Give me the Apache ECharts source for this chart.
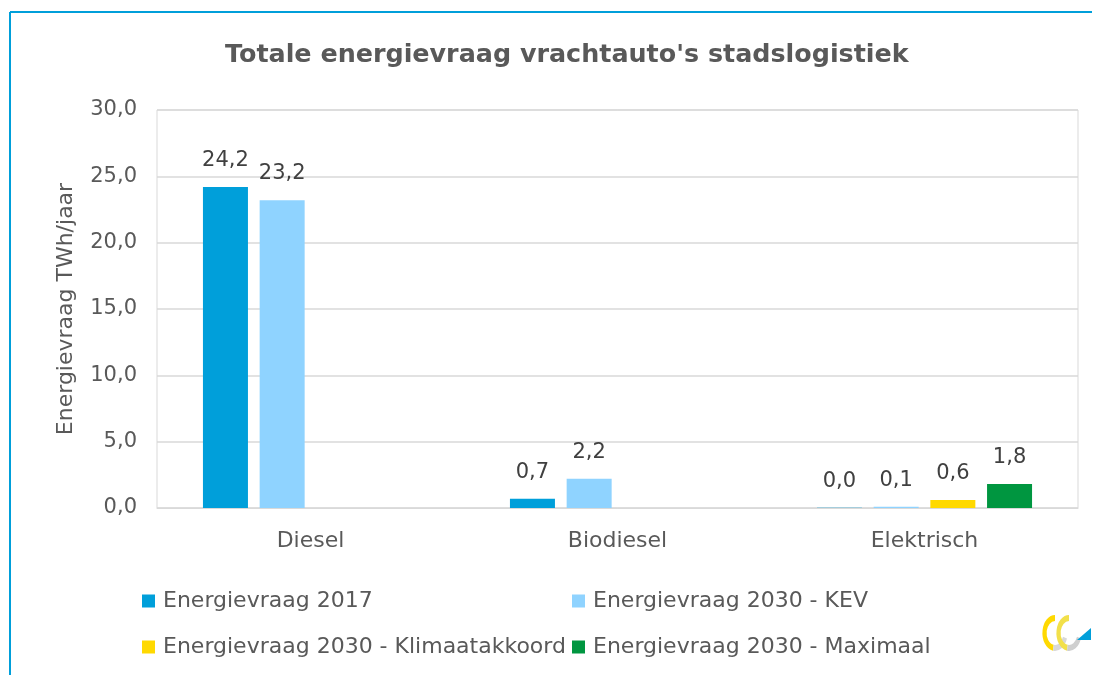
<!DOCTYPE html>
<html>
<head>
<meta charset="utf-8">
<script src="https://cdn.jsdelivr.net/npm/echarts@6/dist/echarts.min.js"></script>
<style>
  html, body { margin: 0; padding: 0; background: #fff; }
  #chart { width: 1102px; height: 675px; }
</style>
</head>
<body>
<div id="chart"></div>
<script>
var categories = ['Diesel', 'Biodiesel', 'Elektrisch'];
var seriesNames = ['Energievraag 2017', 'Energievraag 2030 - KEV', 'Energievraag 2030 - Klimaatakkoord', 'Energievraag 2030 - Maximaal'];
var vraag2017 = [24.2, 0.7, 0.02];
var vraagKEV = [23.2, 2.2, 0.1];
var vraagKlimaat = [null, null, 0.6];
var vraagMaximaal = [null, null, 1.8];
var yTicks = [0, 5, 10, 15, 20, 25, 30];

var colors = ['#009fda', '#8fd3ff', '#ffd900', '#009640'];
var font = 'DejaVu Sans';
var textColor = '#595959';

function komma(v) {
    return v.toFixed(1).replace('.', ',');
}

function makeSeries(name, data, i) {
    return {
        name: name,
        type: 'bar',
        data: data,
        barWidth: 45,
        barGap: '26%',
        itemStyle: { color: colors[i] },
        label: {
            show: true,
            position: 'top',
            distance: 16,
            fontFamily: font,
            fontSize: 21,
            color: '#404040',
            formatter: function (p) { return p.value == null ? '' : komma(p.value); }
        }
    };
}

function legendColumn(x, names) {
    return {
        orient: 'vertical',
        left: x, top: 585,
        itemGap: 24,
        itemWidth: 13, itemHeight: 13,
        icon: 'rect',
        data: names,
        textStyle: { fontFamily: font, fontSize: 22, color: textColor, padding: [0, 0, 0, 3] }
    };
}

// klein logo rechtsonder
function logoArc(x, start, end, color) {
    return {
        type: 'arc', x: x, y: 633, scaleX: 0.7,
        shape: { cx: 0, cy: 0, r: 15, startAngle: Math.PI * start, endAngle: Math.PI * end },
        style: { stroke: color, lineWidth: 6, fill: null }
    };
}

var chart = echarts.init(document.getElementById('chart'));
chart.setOption({
    animation: false,
    title: {
        text: "Totale energievraag vrachtauto's stadslogistiek",
        left: 220,
        top: 38,
        textStyle: { fontFamily: font, fontSize: 25.4, fontWeight: 'bold', color: textColor }
    },
    grid: {
        left: 157, right: 24, top: 110, bottom: 167,
        show: true, borderColor: '#d9d9d9', borderWidth: 1
    },
    legend: [
        legendColumn(137, [seriesNames[0], seriesNames[2]]),
        legendColumn(567, [seriesNames[1], seriesNames[3]])
    ],
    xAxis: {
        type: 'category',
        data: categories,
        axisLine: { lineStyle: { color: '#d9d9d9' } },
        axisTick: { show: false },
        axisLabel: { fontFamily: font, fontSize: 22, color: textColor, margin: 22 }
    },
    yAxis: {
        type: 'value',
        min: yTicks[0],
        max: yTicks[yTicks.length - 1],
        interval: 5,
        name: 'Energievraag TWh/jaar',
        nameLocation: 'middle',
        nameGap: 80,
        nameRotate: 90,
        nameTextStyle: { fontFamily: font, fontSize: 22, color: textColor },
        axisLine: { show: false },
        axisTick: { show: false },
        splitLine: { lineStyle: { color: '#d9d9d9', width: 1.5 } },
        axisLabel: { fontFamily: font, fontSize: 21, color: textColor, margin: 20, formatter: komma }
    },
    series: [
        makeSeries(seriesNames[0], vraag2017, 0),
        makeSeries(seriesNames[1], vraagKEV, 1),
        makeSeries(seriesNames[2], vraagKlimaat, 2),
        makeSeries(seriesNames[3], vraagMaximaal, 3)
    ],
    graphic: [
        { type: 'line', shape: { x1: 10, y1: 12, x2: 1092, y2: 12 }, style: { stroke: '#009fda', lineWidth: 2 } },
        { type: 'line', shape: { x1: 10, y1: 12, x2: 10, y2: 675 }, style: { stroke: '#009fda', lineWidth: 2 } },
        logoArc(1055, 0.55, 1.5, '#ffd900'),
        logoArc(1055, 0.1, 0.55, '#d8d8d8'),
        logoArc(1069, 0.55, 1.5, '#f2e04a'),
        logoArc(1069, 0.1, 0.55, '#cfcfcf'),
        { type: 'polygon', shape: { points: [[1077, 640], [1091, 640], [1091, 628]] }, style: { fill: '#009fda' } }
    ]
});
</script>
</body>
</html>
